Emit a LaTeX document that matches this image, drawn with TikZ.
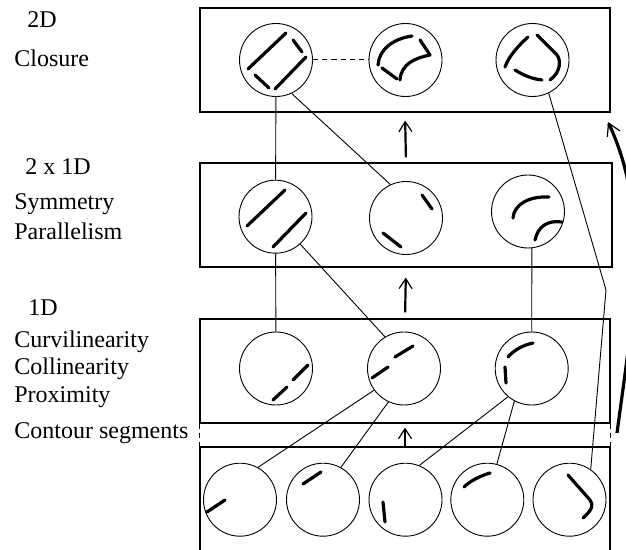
\documentclass[tikz,border=0pt]{standalone}
\usepackage{fontspec}
\setmainfont{Liberation Serif}
\usetikzlibrary{arrows.meta, positioning, fit}
\tikzset{
  layer/.style={rectangle, draw, line width=0.6pt, inner sep=0pt},
  blob/.style={circle, draw, line width=0.45pt, minimum size=36.5pt, inner sep=0pt},
  link/.style={line width=0.45pt},
  dlink/.style={line width=0.5pt, dash pattern=on 2.6pt off 2pt},
  seg/.style={line width=1.6pt, line cap=round, line join=round},
  uparr/.style={-{Straight Barb[length=5pt, width=6.5pt, line width=0.6pt]}, line width=1.1pt},
  bigarr/.style={-{Straight Barb[length=6pt, width=7pt, line width=0.6pt]}, line width=1.6pt},
  lbl/.style={anchor=base west, inner sep=0pt, font=\fontsize{12}{14}\selectfont},
}

\begin{document}
\begin{tikzpicture}[x=0.5pt, y=-0.5pt]
  \clip (0,0) rectangle (626,550);

  % Layer boxes
  \node[layer, fit={(200,8) (610,112)}] (box2d) {};
  \node[layer, fit={(200,163) (612,267)}] (boxsym) {};
  \node[layer, fit={(200,319) (610,423)}] (box1d) {};
  \node[layer, fit={(200,447) (610,570)}] (boxseg) {};
  \draw[dlink] (box1d.south west) -- (boxseg.north west);
  \draw[dlink] (box1d.south east) -- (boxseg.north east);

  % Left labels
  \node[lbl] (lbltwod) at (27,28) {2D};
  \node[lbl] (lblclos) at (14,67) {Closure};
  \node[lbl] (lbltwox) at (25,175) {2 x 1D};
  \node[lbl] (lblsym) at (14,210) {Symmetry};
  \node[lbl] (lblpar) at (14,240) {Parallelism};
  \node[lbl] (lblone) at (28,316) {1D};
  \node[lbl] (lblcurv) at (14,348) {Curvilinearity};
  \node[lbl] (lblcoll) at (14,375) {Collinearity};
  \node[lbl] (lblprox) at (14,402) {Proximity};
  \node[lbl] (lblcont) at (14,438) {Contour segments};

  % 2D row
  \node[blob] (t1) at (276,60) {};
  \node[blob] (t2) at (405.5,60) {};
  \node[blob] (t3) at (532.5,60) {};
  \draw[seg] (248,69) -- (286,33);
  \draw[seg] (293,40) -- (302,52);
  \draw[seg] (306,57) -- (275,89);
  \draw[seg] (255,75) -- (269,88);
  \draw[seg] (378,65) .. controls (379,50) and (392,39) .. (412,36);
  \draw[seg] (382,68) -- (397,79);
  \draw[seg] (420,40) -- (430,55) .. controls (415,58) and (401,64) .. (400,80);
  \draw[seg] (528,37) .. controls (518,46) and (509,56) .. (505,67);
  \draw[seg] (537,35) -- (557,55) .. controls (561,60) and (561,72) .. (550,80);
  \draw[seg] (515,70) .. controls (523,75) and (532,79) .. (542,80);

  % 2 x 1D row
  \node[blob] (s1) at (275.5,216.7) {};
  \node[blob] (s2) at (406,218) {};
  \node[blob] (s3) at (528,211.5) {};
  \draw[seg] (247,226) -- (285,190);
  \draw[seg] (273,247) -- (306,213);
  \draw[seg] (422,195) -- (432,209);
  \draw[seg] (383,233) -- (401,247);
  \draw[seg] (513,218) .. controls (514,205) and (528,196) .. (549,197);
  \draw[seg] (535,240) .. controls (538,226) and (548,220) .. (562,222);

  % 1D row
  \node[blob] (d1) at (276,368.5) {};
  \node[blob] (d2) at (404,368.5) {};
  \node[blob] (d3) at (531.7,368.5) {};
  \draw[seg] (273,400) -- (287,387);
  \draw[seg] (293,380) -- (308,365);
  \draw[seg] (372,378) -- (388,367);
  \draw[seg] (395,357) -- (413,346);
  \draw[seg] (508,357) .. controls (515,349) and (524,345) .. (533,343);
  \draw[seg] (505,367) -- (506,383);

  % Contour segments row
  \node[blob] (b1) at (240,499.7) {};
  \node[blob] (b2) at (323,499.7) {};
  \node[blob] (b3) at (405.5,499.7) {};
  \node[blob] (b4) at (487.3,499.7) {};
  \node[blob] (b5) at (569.5,499.7) {};
  \draw[seg] (207,512) -- (225,500);
  \draw[seg] (303,484) -- (321,472);
  \draw[seg] (383,502) -- (385,522);
  \draw[seg] (464,487) .. controls (470,481) and (480,476) .. (490,473);
  \draw[seg] (568,475) -- (590,500) .. controls (594,505) and (592,510) .. (583,518);

  % Links between groupings
  \draw[dlink] (t1) -- (t2);
  \draw[link] (t1) -- (s1);
  \draw[link] (t1.-65) -- (s2.115);
  \coordinate (kink) at (606,290);
  \draw[link] (t3.-64) -- (kink) -- (b5.55);
  \draw[link] (s1) -- (d1);
  \draw[link] (s1.-48) -- (d2.121);
  \draw[link] (s3.-84) -- (d3.90);
  \draw[link] (d2.-144) -- (b1.61);
  \draw[link] (d2.-115) -- (b2.61);
  \draw[link] (d3.-130) -- (b3.68);
  \draw[link] (d3.-118) -- (b4.75);

  % Upward arrows
  \draw[uparr, shorten <=2.5pt, shorten >=4pt] (boxsym.north) -- (box2d.south);
  \draw[uparr, shorten <=3pt, shorten >=5pt] (box1d.north) -- (boxsym.south);
  \draw[uparr, shorten >=2pt] (boxseg.north) -- (box1d.south);

  % Right feedback arc
  \coordinate (arclo) at (617,433);
  \coordinate (archi) at (608,122);
  \draw[bigarr] (arclo) .. controls (632,320) and (652,215) .. (archi);
\end{tikzpicture}
\end{document}
